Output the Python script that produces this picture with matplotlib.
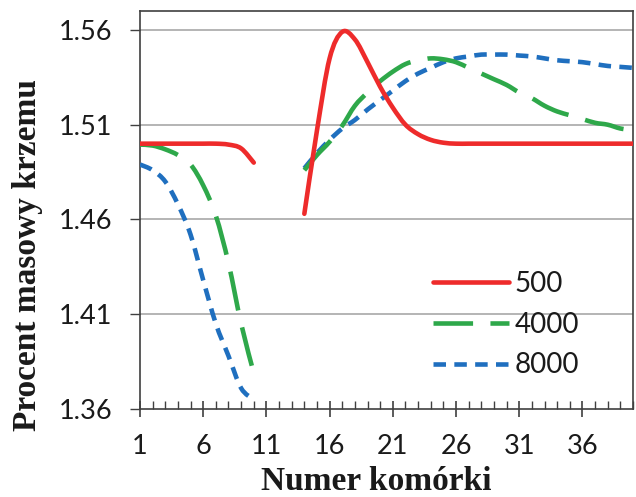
import matplotlib
matplotlib.use("Agg")
import matplotlib.pyplot as plt
import numpy as np
from matplotlib.path import Path
from matplotlib.patches import PathPatch
from matplotlib.lines import Line2D
from matplotlib.ticker import MultipleLocator, FixedLocator

plt.rcParams['lines.scale_dashes'] = False

# ---------------- data ----------------
x_left = list(range(1, 11))
x_right = list(range(14, 41))

red_left = [1.500, 1.500, 1.500, 1.500, 1.500, 1.500, 1.500, 1.4995, 1.4975, 1.490]
red_right = [1.463, 1.507, 1.545, 1.559, 1.555, 1.543, 1.530, 1.519, 1.510, 1.505,
             1.502, 1.5005, 1.500, 1.500, 1.500, 1.500, 1.500, 1.500, 1.500, 1.500,
             1.500, 1.500, 1.500, 1.500, 1.500, 1.500, 1.500]

green_left = [1.4995, 1.499, 1.497, 1.494, 1.489, 1.478, 1.462, 1.437, 1.405, 1.379]
green_right = [1.486, 1.494, 1.501, 1.5095, 1.520, 1.527, 1.533, 1.538, 1.542, 1.544,
               1.545, 1.5445, 1.543, 1.540, 1.537, 1.534, 1.531, 1.527, 1.524, 1.520,
               1.517, 1.515, 1.513, 1.511, 1.510, 1.508, 1.507]

blue_left = [1.489, 1.486, 1.480, 1.468, 1.452, 1.428, 1.405, 1.388, 1.371, 1.365]
blue_right = [1.487, 1.495, 1.502, 1.508, 1.5125, 1.518, 1.523, 1.528, 1.533, 1.537,
              1.540, 1.543, 1.545, 1.546, 1.547, 1.547, 1.547, 1.5465, 1.546, 1.545,
              1.544, 1.5435, 1.543, 1.542, 1.541, 1.5405, 1.540]

series_labels = ["500", "4000", "8000"]
x_ticks = [1, 6, 11, 16, 21, 26, 31, 36]
y_ticks = [1.36, 1.41, 1.46, 1.51, 1.56]

# ---------------- style ----------------
RED = "#EE2B2B"
GREEN = "#2EA84A"
BLUE = "#1F6FBF"
LW = 3.3
styles = {
    "500": dict(color=RED, dash=None),
    "4000": dict(color=GREEN, dash=(0, (28.5, 12.5))),
    "8000": dict(color=BLUE, dash=(0, (9.0, 6.0))),
}


def smooth_path(xs, ys):
    """Excel-like smoothed line as cubic Bezier path through the data points."""
    xs = np.asarray(xs, float)
    ys = np.asarray(ys, float)
    n = len(xs)
    verts = [(xs[0], ys[0])]
    codes = [Path.MOVETO]
    for i in range(n - 1):
        p0 = np.array([xs[max(i - 1, 0)], ys[max(i - 1, 0)]])
        p1 = np.array([xs[i], ys[i]])
        p2 = np.array([xs[i + 1], ys[i + 1]])
        p3 = np.array([xs[min(i + 2, n - 1)], ys[min(i + 2, n - 1)]])
        c1 = p1 + (p2 - p0) / 6.0
        c2 = p2 - (p3 - p1) / 6.0
        verts += [tuple(c1), tuple(c2), tuple(p2)]
        codes += [Path.CURVE4] * 3
    return Path(verts, codes)


fig = plt.figure(figsize=(6.36, 4.97), dpi=100)
ax = fig.add_axes([140 / 636, 1 - 409 / 497, (633 - 140) / 636, (409 - 11) / 497])

ax.set_xlim(1, 40)
ax.set_ylim(1.36, 1.57)

for y in y_ticks[1:]:
    ax.axhline(y, color="#A8A8A8", lw=1.2, zorder=1)

data = {
    "500": (red_left, red_right),
    "4000": (green_left, green_right),
    "8000": (blue_left, blue_right),
}
for lab in ["8000", "4000", "500"]:
    st = styles[lab]
    for xs, ys in ((x_left, data[lab][0]), (x_right, data[lab][1])):
        p = PathPatch(smooth_path(xs, ys), fill=False, edgecolor=st["color"], lw=LW,
                      capstyle="butt", joinstyle="round", zorder=3)
        if st["dash"] is not None:
            p.set_linestyle(st["dash"])
        else:
            p.set_capstyle("round")
        ax.add_patch(p)

# ticks
ax.xaxis.set_major_locator(FixedLocator(x_ticks))
ax.xaxis.set_minor_locator(MultipleLocator(1))
ax.yaxis.set_major_locator(FixedLocator(y_ticks))
ax.set_xticklabels([str(t) for t in x_ticks])
ax.set_yticklabels([f"{t:.2f}" for t in y_ticks])

for lbl in ax.get_xticklabels() + ax.get_yticklabels():
    lbl.set_fontfamily("Lato")
    lbl.set_fontsize(19.5)
    lbl.set_color("#1a1a1a")

ax.tick_params(axis="x", which="major", direction="inout", length=12, width=1.2,
               color="#404040", pad=12)
ax.tick_params(axis="x", which="minor", direction="in", length=5.5, width=1.0,
               color="#404040")
ax.tick_params(axis="y", which="major", direction="out", length=7, width=1.0,
               color="#404040", pad=13)

for s in ax.spines.values():
    s.set_color("#404040")
    s.set_linewidth(1.2)

# axis labels
fig.text(28 / 636, 1 - 255 / 497, "Procent masowy krzemu", rotation=90,
         ha="center", va="center", family="Liberation Serif", weight="bold",
         size=24, color="#1a1a1a")
fig.text(376 / 636, 1 - 482 / 497, "Numer komórki", ha="center", va="center",
         family="Liberation Serif", weight="bold", size=24, color="#1a1a1a")

# legend
handles = []
for lab in series_labels:
    st = styles[lab]
    h = Line2D([], [], color=st["color"], lw=LW, solid_capstyle="round",
               dash_capstyle="butt")
    if st["dash"] is not None:
        h.set_linestyle(st["dash"])
    handles.append(h)
leg = ax.legend(handles, series_labels, loc="upper left",
                bbox_to_anchor=(433 / 636, 1 - 271 / 497),
                bbox_transform=fig.transFigure, frameon=False,
                prop=dict(family="Lato", size=20), handlelength=2.75,
                handletextpad=0.2, labelspacing=0.53, borderpad=0,
                borderaxespad=0)
for t in leg.get_texts():
    t.set_color("#1a1a1a")

fig.savefig("out.png", dpi=100)
